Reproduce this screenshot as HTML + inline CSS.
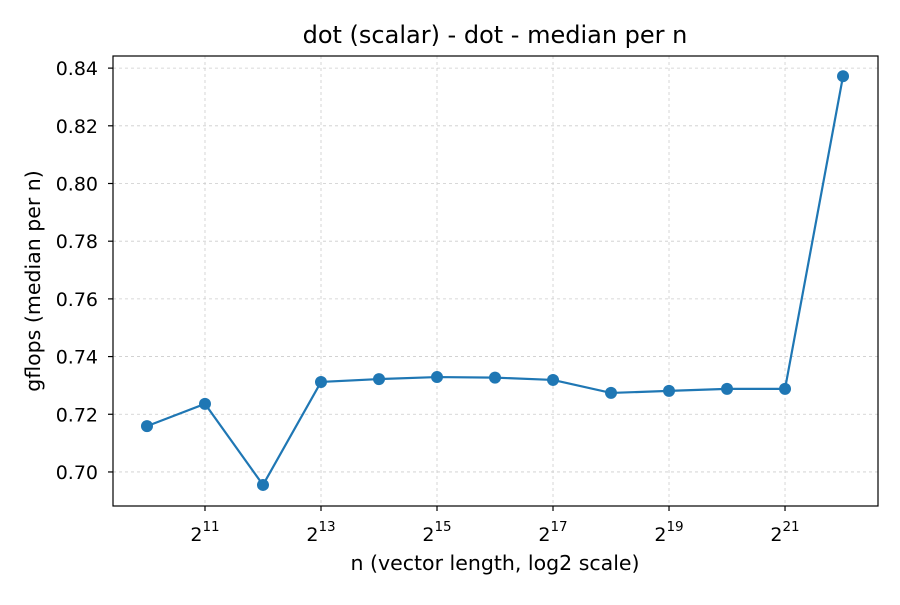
<!DOCTYPE html>
<html><head><meta charset="utf-8"><style>
body{margin:0;background:#fff;}
svg{font-family:"DejaVu Sans","Liberation Sans",sans-serif;}
</style></head><body>
<svg id="chart" width="900" height="600" xmlns="http://www.w3.org/2000/svg">
<rect width="900" height="600" fill="#fff"/>
<text x="495" y="43" font-size="24" text-anchor="middle" fill="#000">dot (scalar) - dot - median per n</text>
<g id="grid"></g>
<g id="axes"></g>
<g id="series"></g>
<rect x="113" y="56" width="765" height="450" fill="none" stroke="#000" stroke-width="1.2"/>
<text x="495" y="570" font-size="20.5" text-anchor="middle">n (vector length, log2 scale)</text>
<text transform="translate(40,281) rotate(-90)" font-size="20.5" text-anchor="middle">gflops (median per n)</text>
</svg>
<script>
const exponents=[10,11,12,13,14,15,16,17,18,19,20,21,22];
const gflops=[0.7159,0.7236,0.6955,0.7312,0.7322,0.7329,0.7327,0.7319,0.7274,0.7281,0.7288,0.7288,0.8372];
const yTicks=[0.70,0.72,0.74,0.76,0.78,0.80,0.82,0.84];
const xTicks=[11,13,15,17,19,21];
const L=113,R=878,T=56,B=506;
const xMin=9.414,xMax=22.603,yMin=0.6882,yMax=0.8442;
const sx=v=>L+(v-xMin)/(xMax-xMin)*(R-L);
const sy=v=>B-(v-yMin)/(yMax-yMin)*(B-T);
const NS="http://www.w3.org/2000/svg";
function mk(tag,attrs,parent){const e=document.createElementNS(NS,tag);for(const k in attrs)e.setAttribute(k,attrs[k]);parent.appendChild(e);return e;}
const grid=document.getElementById('grid'),axes=document.getElementById('axes'),series=document.getElementById('series');
xTicks.forEach(t=>{
 const x=sx(t);
 const g=mk('line',{x1:x,x2:x,y1:T,y2:B,stroke:'#ccc','stroke-width':0.8,'stroke-dasharray':'3,3'},grid);
 
 
 const tk=mk('line',{x1:x,x2:x,y1:B,y2:B+5,stroke:'#000','stroke-width':1.2},axes);
 
 
 const tx=mk('text',{x:x,y:B+35,'font-size':19,'text-anchor':'middle'},axes);
 
 
 tx.textContent='2';
 const sp=mk('tspan',{dy:-10,'font-size':13.5},tx);
 
 
 sp.textContent=t;
});
yTicks.forEach(t=>{
 const y=sy(t);
 const g=mk('line',{x1:L,x2:R,y1:y,y2:y,stroke:'#ccc','stroke-width':0.8,'stroke-dasharray':'3,3'},grid);
 
 
 const tk=mk('line',{x1:L-5,x2:L,y1:y,y2:y,stroke:'#000','stroke-width':1.2},axes);
 
 
 const tx=mk('text',{x:L-15,y:y+7,'font-size':19,'text-anchor':'end'},axes);
 
 
 tx.textContent=t.toFixed(2);
});
const pts=exponents.map((e,i)=>sx(e)+','+sy(gflops[i])).join(' ');
const line=mk('polyline',{points:pts,fill:'none',stroke:'#1f77b4','stroke-width':2.2},series);


exponents.forEach((e,i)=>{
 const c=mk('circle',{cx:sx(e),cy:sy(gflops[i]),r:6,fill:'#1f77b4'},series);
 
 
});
</script>
</body></html>
